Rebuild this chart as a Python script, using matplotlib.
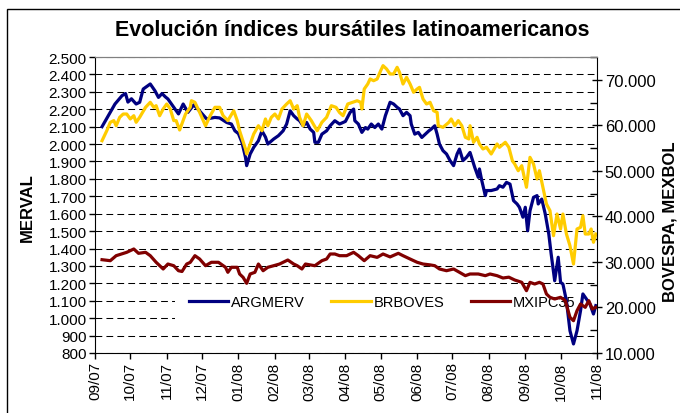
import matplotlib
matplotlib.use("Agg")
import matplotlib.pyplot as plt
import matplotlib.dates as mdates
from matplotlib.ticker import MultipleLocator, FuncFormatter
from matplotlib.patches import Rectangle
import pandas as pd

plt.rcParams['font.family'] = ['Liberation Sans', 'DejaVu Sans']

# ARGMERV (left axis)
merv_dates = [
    "2007-09-07", "2007-09-18", "2007-09-24", "2007-09-27", "2007-09-29", "2007-10-02",
    "2007-10-06", "2007-10-09", "2007-10-12", "2007-10-18", "2007-10-22", "2007-10-25",
    "2007-10-28", "2007-10-31", "2007-11-02", "2007-11-07", "2007-11-11", "2007-11-15",
    "2007-11-19", "2007-11-24", "2007-11-29", "2007-12-05", "2007-12-12", "2007-12-16",
    "2007-12-22", "2007-12-26", "2007-12-29", "2008-01-01", "2008-01-04", "2008-01-07",
    "2008-01-08", "2008-01-11", "2008-01-14", "2008-01-18", "2008-01-21", "2008-01-24",
    "2008-01-26", "2008-01-31", "2008-02-04", "2008-02-08", "2008-02-11", "2008-02-14",
    "2008-02-17", "2008-02-20", "2008-02-22", "2008-02-25", "2008-02-28", "2008-03-02",
    "2008-03-05", "2008-03-06", "2008-03-09", "2008-03-12", "2008-03-16", "2008-03-19",
    "2008-03-23", "2008-03-27", "2008-04-01", "2008-04-05", "2008-04-08", "2008-04-09",
    "2008-04-12", "2008-04-15", "2008-04-18", "2008-04-20", "2008-04-23", "2008-04-26",
    "2008-04-29", "2008-05-02", "2008-05-05", "2008-05-09", "2008-05-12", "2008-05-15",
    "2008-05-17", "2008-05-20", "2008-05-23", "2008-05-26", "2008-05-27", "2008-05-30",
    "2008-06-02", "2008-06-05", "2008-06-08", "2008-06-11", "2008-06-13", "2008-06-16",
    "2008-06-18", "2008-06-20", "2008-06-23", "2008-06-26", "2008-06-29", "2008-07-02",
    "2008-07-05", "2008-07-07", "2008-07-10", "2008-07-13", "2008-07-16", "2008-07-20",
    "2008-07-23", "2008-07-24", "2008-07-26", "2008-07-29", "2008-07-30", "2008-08-03",
    "2008-08-08", "2008-08-10", "2008-08-13", "2008-08-16", "2008-08-19", "2008-08-22",
    "2008-08-25", "2008-08-27", "2008-08-30", "2008-09-01", "2008-09-03", "2008-09-05",
    "2008-09-08", "2008-09-11", "2008-09-12", "2008-09-15", "2008-09-18", "2008-09-21",
    "2008-09-23", "2008-09-26", "2008-09-29", "2008-10-01", "2008-10-03", "2008-10-06",
    "2008-10-09", "2008-10-12", "2008-10-15", "2008-10-18", "2008-10-20", "2008-10-23",
    "2008-10-26", "2008-10-29", "2008-10-31",
]
merv = [
    2100, 2230, 2278, 2290, 2241, 2260,
    2230, 2240, 2316, 2345, 2306, 2268,
    2290, 2270, 2259, 2211, 2173, 2230,
    2182, 2225, 2190, 2144, 2153, 2150,
    2124, 2115, 2076, 2060, 2010, 1924,
    1876, 1943, 1981, 2019, 2076, 2040,
    2000, 2029, 2048, 2076, 2115, 2191,
    2163, 2144, 2134, 2105, 2124, 2086,
    2067, 2010, 2010, 2057, 2076, 2105,
    2134, 2115, 2130, 2182, 2201, 2134,
    2115, 2067, 2095, 2086, 2115, 2095,
    2115, 2086, 2163, 2240, 2230, 2211,
    2201, 2163, 2182, 2163, 2115, 2057,
    2067, 2038, 2057, 2076, 2086, 2105,
    2057, 2000, 1962, 1943, 1905, 1876,
    1943, 1971, 1905, 1924, 1952, 1866,
    1809, 1857, 1790, 1704, 1733, 1733,
    1742, 1761, 1752, 1780, 1770, 1675,
    1656, 1637, 1580, 1637, 1502, 1617,
    1694, 1704, 1656, 1684, 1598, 1483,
    1369, 1215, 1350, 1206, 1196, 1100,
    928, 852, 928, 1043, 1139, 1110,
    1081, 1024, 1072,
]

# BRBOVES (right axis)
bov_dates = [
    "2007-09-07", "2007-09-11", "2007-09-14", "2007-09-17", "2007-09-19", "2007-09-22",
    "2007-09-25", "2007-09-28", "2007-10-01", "2007-10-04", "2007-10-06", "2007-10-09",
    "2007-10-14", "2007-10-18", "2007-10-21", "2007-10-23", "2007-10-26", "2007-10-29",
    "2007-11-01", "2007-11-04", "2007-11-07", "2007-11-09", "2007-11-12", "2007-11-17",
    "2007-11-21", "2007-11-22", "2007-11-25", "2007-11-29", "2007-12-04", "2007-12-08",
    "2007-12-12", "2007-12-16", "2007-12-19", "2007-12-23", "2007-12-28", "2007-12-31",
    "2008-01-02", "2008-01-07", "2008-01-08", "2008-01-11", "2008-01-14", "2008-01-18",
    "2008-01-21", "2008-01-24", "2008-01-26", "2008-01-29", "2008-02-01", "2008-02-04",
    "2008-02-07", "2008-02-11", "2008-02-14", "2008-02-17", "2008-02-20", "2008-02-22",
    "2008-02-25", "2008-02-28", "2008-03-03", "2008-03-08", "2008-03-12", "2008-03-16",
    "2008-03-20", "2008-03-24", "2008-03-27", "2008-03-30", "2008-04-03", "2008-04-07",
    "2008-04-11", "2008-04-14", "2008-04-15", "2008-04-17", "2008-04-20", "2008-04-22",
    "2008-04-25", "2008-04-28", "2008-05-01", "2008-05-03", "2008-05-06", "2008-05-09",
    "2008-05-12", "2008-05-15", "2008-05-17", "2008-05-20", "2008-05-23", "2008-05-26",
    "2008-05-29", "2008-06-01", "2008-06-03", "2008-06-06", "2008-06-09", "2008-06-12",
    "2008-06-15", "2008-06-18", "2008-06-19", "2008-06-23", "2008-06-28", "2008-06-30",
    "2008-07-03", "2008-07-06", "2008-07-09", "2008-07-12", "2008-07-15", "2008-07-16",
    "2008-07-19", "2008-07-22", "2008-07-24", "2008-07-27", "2008-07-30", "2008-08-03",
    "2008-08-08", "2008-08-10", "2008-08-15", "2008-08-18", "2008-08-21", "2008-08-23",
    "2008-08-26", "2008-08-29", "2008-09-02", "2008-09-05", "2008-09-08", "2008-09-11",
    "2008-09-13", "2008-09-16", "2008-09-19", "2008-09-22", "2008-09-25", "2008-09-28",
    "2008-10-01", "2008-10-03", "2008-10-06", "2008-10-09", "2008-10-12", "2008-10-15",
    "2008-10-18", "2008-10-20", "2008-10-22", "2008-10-25", "2008-10-27", "2008-10-29",
    "2008-10-31",
]
bov = [
    56620, 58800, 60660, 61030, 59900, 61760,
    62480, 62480, 61390, 62110, 60660, 61760,
    63950, 65050, 63950, 64310, 62110, 63580,
    64680, 63580, 61030, 61030, 58970, 62480,
    63950, 65400, 65050, 62850, 59900, 62110,
    63950, 63950, 62110, 61030, 63200, 61030,
    58800, 54800, 53700, 55900, 58100, 59910,
    58800, 61390, 59910, 61760, 62480, 61390,
    63580, 64680, 65400, 63580, 64310, 61760,
    59910, 62480, 61030, 58800, 60660, 61760,
    64310, 63950, 62800, 62110, 64680, 65050,
    65400, 65050, 63580, 67970, 69070, 70170,
    69800, 70170, 72000, 73100, 72370, 71270,
    71270, 72740, 71640, 69070, 70540, 69070,
    67250, 67970, 68340, 65780, 64680, 65050,
    63200, 62850, 59910, 59560, 60660, 61390,
    59910, 61030, 59910, 57370, 57000, 59910,
    56270, 57370, 55900, 54800, 55170, 53700,
    55900, 55170, 56270, 55170, 52230, 51500,
    50030, 51130, 46390, 52970, 51500, 48210,
    50030, 46390, 42720, 41260, 35760, 40520,
    37230, 40520, 36130, 33560, 29540, 37230,
    37600, 40150, 36130, 36130, 37230, 34310,
    36130,
]

# MXIPC35 (right axis)
mex_dates = [
    "2007-09-07", "2007-09-14", "2007-09-19", "2007-09-28", "2007-10-04", "2007-10-08",
    "2007-10-14", "2007-10-18", "2007-10-23", "2007-10-29", "2007-11-02", "2007-11-07",
    "2007-11-11", "2007-11-14", "2007-11-18", "2007-11-21", "2007-11-25", "2007-11-29",
    "2007-12-04", "2007-12-09", "2007-12-15", "2007-12-21", "2007-12-23", "2007-12-26",
    "2007-12-31", "2008-01-02", "2008-01-05", "2008-01-08", "2008-01-11", "2008-01-15",
    "2008-01-18", "2008-01-22", "2008-01-26", "2008-01-31", "2008-02-05", "2008-02-08",
    "2008-02-12", "2008-02-17", "2008-02-20", "2008-02-24", "2008-02-27", "2008-03-02",
    "2008-03-06", "2008-03-12", "2008-03-16", "2008-03-19", "2008-03-23", "2008-03-27",
    "2008-04-02", "2008-04-08", "2008-04-12", "2008-04-17", "2008-04-22", "2008-04-28",
    "2008-05-03", "2008-05-09", "2008-05-16", "2008-05-20", "2008-05-26", "2008-06-01",
    "2008-06-06", "2008-06-12", "2008-06-16", "2008-06-20", "2008-06-26", "2008-07-02",
    "2008-07-07", "2008-07-12", "2008-07-16", "2008-07-23", "2008-07-29", "2008-08-02",
    "2008-08-08", "2008-08-13", "2008-08-18", "2008-08-23", "2008-08-29", "2008-09-02",
    "2008-09-05", "2008-09-09", "2008-09-13", "2008-09-16", "2008-09-19", "2008-09-22",
    "2008-09-26", "2008-10-01", "2008-10-05", "2008-10-09", "2008-10-12", "2008-10-15",
    "2008-10-18", "2008-10-22", "2008-10-25", "2008-10-28", "2008-10-31",
]
mex = [
    30490, 30270, 31370, 32110, 32840, 31890,
    32110, 31370, 29920, 28450, 29540, 29170,
    28070, 27900, 29540, 29900, 31370, 30640,
    29170, 29920, 29920, 28820, 27720, 28820,
    28820, 27350, 26610, 25300, 27350, 27720,
    29540, 28070, 28820, 29170, 29540, 29920,
    30420, 29540, 29170, 28450, 29540, 29350,
    29170, 30270, 30640, 31740, 31740, 31370,
    31370, 32110, 31370, 30270, 31370, 31000,
    31740, 31100, 31890, 31370, 30640, 29920,
    29540, 29350, 29170, 28450, 28070, 28450,
    27720, 26980, 27350, 27350, 26980, 27350,
    26980, 26470, 26650, 26030, 25520, 23680,
    25520, 25150, 25520, 25150, 22960, 22230,
    21860, 22230, 21490, 17840, 17090, 19290,
    20760, 20030, 21490, 19660, 20030,
]


def dotted_thousands(v, pos):
    return f"{v:,.0f}".replace(",", ".")


fig = plt.figure(figsize=(6.8, 4.14), dpi=100)
ax = fig.add_axes([95 / 680, 60 / 414, 502 / 680, 296 / 414])
ax2 = ax.twinx()

ax.set_axisbelow(True)
ax.grid(axis='y', color='black', linestyle=(0, (6.5, 4)), linewidth=0.75)

l1, = ax.plot(pd.to_datetime(merv_dates), merv, color='#000080', lw=2.3,
              zorder=3, label='ARGMERV')
l2, = ax2.plot(pd.to_datetime(bov_dates), bov, color='#FFCC00', lw=2.3,
               label='BRBOVES')
l3, = ax2.plot(pd.to_datetime(mex_dates), mex, color='#800000', lw=2.3,
               label='MXIPC35')

ax.set_xlim(pd.Timestamp("2007-09-01"), pd.Timestamp("2008-11-01"))
ax.set_ylim(800, 2500)
ax2.set_ylim(10000, 75000)

ax.xaxis.set_major_locator(mdates.MonthLocator())
ax.xaxis.set_major_formatter(mdates.DateFormatter('%m/%y'))
ax.yaxis.set_major_locator(MultipleLocator(100))
ax.yaxis.set_major_formatter(FuncFormatter(dotted_thousands))
ax2.yaxis.set_major_locator(MultipleLocator(10000))
ax2.yaxis.set_minor_locator(MultipleLocator(5000))
ax2.yaxis.set_major_formatter(FuncFormatter(dotted_thousands))

ax.tick_params(axis='x', direction='out', length=4, width=1, labelsize=11,
               labelrotation=90, pad=2)
ax.tick_params(axis='y', direction='out', length=4, width=1, labelsize=11, pad=2)
ax2.tick_params(axis='y', which='major', direction='inout', length=7, width=1,
                labelsize=12, pad=2)
ax2.tick_params(axis='y', which='minor', direction='in', length=5, width=1)

for a in (ax, ax2):
    a.spines['top'].set_color('#808080')
ax.spines['right'].set_visible(False)
ax2.spines['left'].set_visible(False)
ax2.spines['bottom'].set_visible(False)

# white legend background covering the grid
ax.add_patch(Rectangle((0.159, 0.081), 0.841, 0.135, transform=ax.transAxes,
                       facecolor='white', edgecolor='none', zorder=0.8))
leg = ax.legend(handles=[l1, l2, l3], loc='center left',
                bbox_to_anchor=(0.187, 0.172), ncol=3, frameon=False,
                fontsize=10.5, handlelength=2.7, handletextpad=0.2,
                columnspacing=1.8, borderpad=0, borderaxespad=0)
leg.set_zorder(1)

fig.text(352 / 680, 1 - 30 / 414, 'Evolución índices bursátiles latinoamericanos',
         ha='center', va='center', fontsize=15.5, fontweight='bold')
fig.text(27 / 680, 1 - 208 / 414, 'MERVAL', rotation=90, ha='center',
         va='center', fontsize=12, fontweight='bold')
fig.text(670 / 680, 1 - 222 / 414, 'BOVESPA, MEXBOL', rotation=90,
         ha='center', va='center', fontsize=12, fontweight='bold')

fig.patches.append(Rectangle((7 / 680, -0.05), 1.0, 1 - 10 / 414 + 0.05,
                             transform=fig.transFigure, fill=False,
                             edgecolor='black', lw=1))

fig.savefig('out.png', dpi=100)
